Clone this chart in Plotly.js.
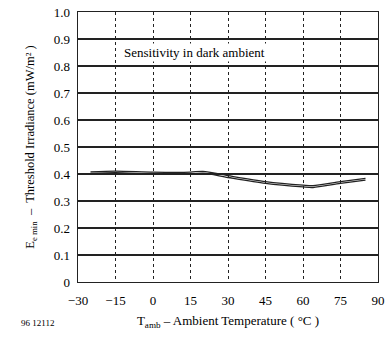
<!DOCTYPE html>
<html><head><meta charset="utf-8">
<script src="https://cdn.plot.ly/plotly-3.0.1.min.js"></script>
<style>html,body{margin:0;padding:0;background:#fff}#c{width:387px;height:338px}</style>
</head><body><div id="c"></div>
<script>
const temps = [-25, -15, 0, 15, 20, 30, 45, 60, 64, 75, 85];
const upper = [0.408, 0.411, 0.407, 0.407, 0.410, 0.394, 0.372, 0.359, 0.357, 0.372, 0.384];
const lower = [0.402, 0.405, 0.400, 0.400, 0.403, 0.387, 0.365, 0.352, 0.350, 0.365, 0.377];
const xTicks = [-30, -15, 0, 15, 30, 45, 60, 75, 90];
const xTickText = ['\u221230', '\u221215', '0', '15', '30', '45', '60', '75', '90'];
const yTicks = [0, 0.1, 0.2, 0.3, 0.4, 0.5, 0.6, 0.7, 0.8, 0.9, 1.0];
const yTickText = ['0', '0.1', '0.2', '0.3', '0.4', '0.5', '0.6', '0.7', '0.8', '0.9', '1.0'];

const fam = 'Liberation Serif, DejaVu Serif, serif';
const traces = [
  {x: temps, y: upper, mode: 'lines', line: {color: '#222', width: 1.3, shape: 'spline', smoothing: 0.8}, hoverinfo: 'skip'},
  {x: temps, y: lower, mode: 'lines', line: {color: '#222', width: 1.3, shape: 'spline', smoothing: 0.8}, hoverinfo: 'skip'}
];
const layout = {
  width: 387, height: 338,
  margin: {l: 78, r: 9, t: 12, b: 56},
  showlegend: false,
  paper_bgcolor: '#fff', plot_bgcolor: '#fff',
  font: {family: fam, color: '#000', size: 13},
  xaxis: {
    range: [-30, 90], tickvals: xTicks, ticktext: xTickText,
    showgrid: true, gridcolor: '#222', gridwidth: 1, griddash: 'dot',
    showline: true, linecolor: '#222', linewidth: 1.4, mirror: true,
    zeroline: false, ticks: '', ticklabelstandoff: 6,
    tickfont: {family: fam, size: 13, color: '#000'},
    title: {text: 'T<sub>amb</sub> \u2013 Ambient Temperature ( \u00b0C )', font: {family: fam, size: 13, color: '#000'}, standoff: 9}
  },
  yaxis: {
    range: [0, 1.0], tickvals: yTicks, ticktext: yTickText,
    showgrid: true, gridcolor: '#222', gridwidth: 1.3,
    showline: true, linecolor: '#222', linewidth: 1.4, mirror: true,
    zeroline: false, ticks: '', ticklabelstandoff: 4,
    tickfont: {family: fam, size: 13, color: '#000'},
    title: {text: 'E<sub>e min</sub>  \u2013  Threshold Irradiance (mW/m\u00b2 )', font: {family: fam, size: 12.5, color: '#000'}, standoff: 16}
  },
  annotations: [
    {x: 16.7, y: 0.85, xref: 'x', yref: 'y', text: 'Sensitivity in dark ambient', showarrow: false,
     font: {family: fam, size: 13, color: '#000'}, bgcolor: '#fff'},
    {x: (37 - 78) / 300, y: (282 - 323) / 270, xref: 'paper', yref: 'paper', xanchor: 'center', yanchor: 'middle',
     text: '96 12112', showarrow: false, font: {family: fam, size: 9, color: '#000'}}
  ]
};
Plotly.newPlot('c', traces, layout, {staticPlot: true});
</script></body></html>
